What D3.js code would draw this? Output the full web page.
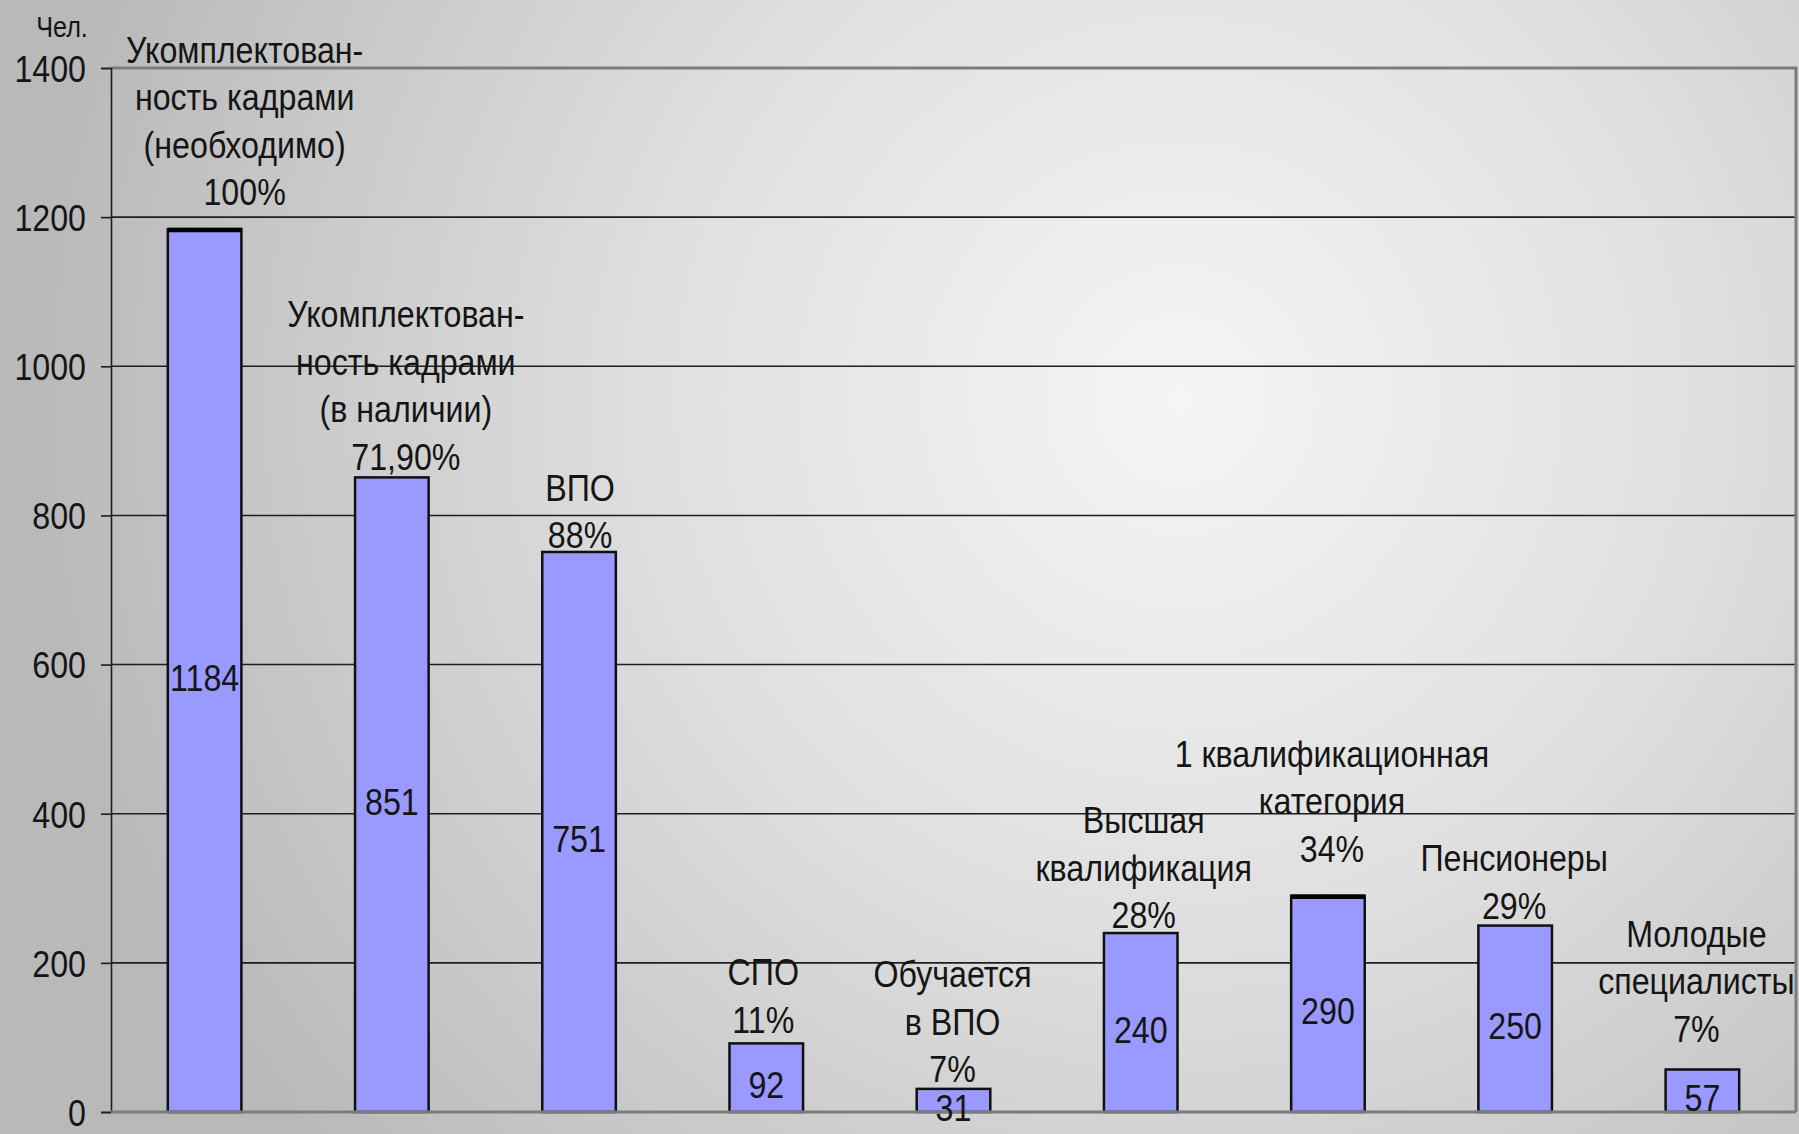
<!DOCTYPE html>
<html><head><meta charset="utf-8">
<script src="https://cdn.jsdelivr.net/npm/d3@7"></script>
<style>
html,body{margin:0;padding:0;overflow:hidden;}
text{font-family:"Liberation Sans",Arial,sans-serif;fill:#151515;}
</style></head>
<body><svg id="c" width="1799" height="1134"></svg>
<script>
// ---- data ----
const categories = [
  ["Укомплектован-","ность кадрами","(необходимо)","100%"],
  ["Укомплектован-","ность кадрами","(в наличии)","71,90%"],
  ["ВПО","88%"],
  ["СПО","11%"],
  ["Обучается","в ВПО","7%"],
  ["Высшая","квалификация","28%"],
  ["1 квалификационная","категория","34%"],
  ["Пенсионеры","29%"],
  ["Молодые","специалисты","7%"]
];
const values = [1184, 851, 751, 92, 31, 240, 290, 250, 57];
const yTicks = [0, 200, 400, 600, 800, 1000, 1200, 1400];
const yUnit = "Чел.";

// ---- layout (label nudges, px) ----
const labelDx = [40, 14, 1, -3, -1, 3, 4, -1, -6];
const labelGap = [37, 21, 17, 24, 20, 18, 47, 20, 41];
const thickTop = [true, false, false, false, false, false, true, false, false];

const W = 1799, H = 1134;
const mL = 111, mR = 1796, mT = 68, mB = 1112;
const fs = 37, lh = 47.6, sx = 0.87;

const svg = d3.select("#c");
const defs = svg.append("defs");
const rg = defs.append("radialGradient").attr("id","bg")
  .attr("gradientUnits","userSpaceOnUse")
  .attr("cx",1180).attr("cy",400).attr("r",1150);
rg.append("stop").attr("offset","0").attr("stop-color","#f5f5f5");
rg.append("stop").attr("offset","0.45").attr("stop-color","#e0e0e0");
rg.append("stop").attr("offset","1").attr("stop-color","#b9b9b9");
svg.append("rect").attr("width",W).attr("height",H).attr("fill","url(#bg)");

const keys = categories.map((d,i)=>"c"+i);
const x = d3.scaleBand().domain(keys).range([mL,mR]).paddingInner(0.607).paddingOuter(0.3035);
const y = d3.scaleLinear().domain([0,1400]).range([mB,mT]);

// gridlines
svg.append("g").selectAll("line").data(yTicks.filter(t=>t>0 && t<1400)).join("line")
  .attr("x1",mL).attr("x2",mR).attr("y1",d=>y(d)).attr("y2",d=>y(d))
  .attr("stroke","#1e1e1e").attr("stroke-width",1.6);

// plot border (top & right)
svg.append("path").attr("d",`M${mL},${y(1400)}H${mR}V${mB}`)
  .attr("fill","none").attr("stroke","#7c7c7c").attr("stroke-width",3);

// y axis
const yAxis = d3.axisLeft(y).tickValues(yTicks).tickSize(10).tickPadding(14).tickFormat(d3.format("d"));
const ga = svg.append("g").attr("transform",`translate(${mL},0)`).call(yAxis);
ga.select(".domain").attr("stroke","#1e1e1e").attr("stroke-width",1.6);
ga.selectAll(".tick line").attr("stroke","#1e1e1e").attr("stroke-width",1.6);
ga.selectAll(".tick text").attr("font-size",fs).attr("dy","0.36em")
  .attr("x",-25/sx).attr("transform",`scale(${sx},1)`)
  .style("font-family",'"Liberation Sans",Arial,sans-serif').attr("fill","#151515");

// bars
svg.append("g").selectAll("rect").data(values).join("rect")
  .attr("x",(d,i)=>x(keys[i])).attr("width",x.bandwidth())
  .attr("y",d=>y(d)).attr("height",d=>y(0)-y(d))
  .attr("fill","#9999ff").attr("stroke","#101010").attr("stroke-width",2.5);
svg.append("g").selectAll("line").data(values.map((v,i)=>({v,i})).filter(d=>thickTop[d.i])).join("line")
  .attr("x1",d=>x(keys[d.i])).attr("x2",d=>x(keys[d.i])+x.bandwidth())
  .attr("y1",d=>y(d.v)+1).attr("y2",d=>y(d.v)+1)
  .attr("stroke","#000").attr("stroke-width",4.5);

// x baseline
svg.append("line").attr("x1",mL).attr("x2",mR).attr("y1",y(0)).attr("y2",y(0))
  .attr("stroke","#7c7c7c").attr("stroke-width",3);

// value labels
svg.append("g").selectAll("text").data(values).join("text")
  .attr("transform",(d,i)=>`translate(${x(keys[i])+x.bandwidth()/2},${(y(d)+y(0))/2+7}) scale(${sx},1)`)
  .attr("dy","0.36em").attr("text-anchor","middle").attr("font-size",fs)
  .text(d=>d);

// category labels above bars
const lg = svg.append("g");
categories.forEach((lines,i)=>{
  const cx = x(keys[i]) + x.bandwidth()/2 + labelDx[i];
  const lastY = y(values[i]) - labelGap[i];
  const t = lg.append("text").attr("text-anchor","middle").attr("font-size",fs)
    .attr("transform",`translate(${cx},0) scale(${sx},1)`);
  lines.forEach((ln,j)=>{
    t.append("tspan").attr("x",0)
      .attr("y", lastY - (lines.length-1-j)*lh)
      .attr("dy","0.36em").text(ln);
  });
});

// unit label
svg.append("text").attr("transform",`translate(62,27) scale(${sx},1)`).attr("dy","0.36em")
  .attr("text-anchor","middle").attr("font-size",29).text(yUnit);
</script>
</body></html>
